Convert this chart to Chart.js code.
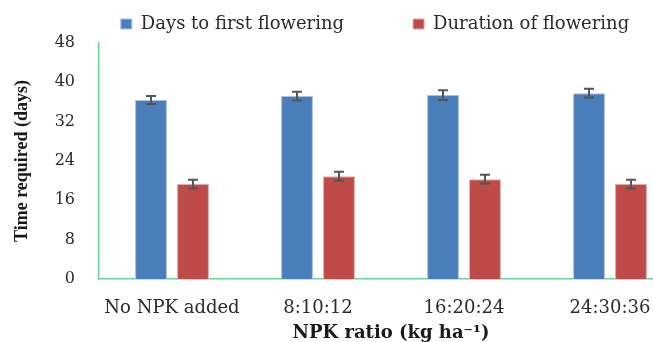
<!DOCTYPE html>
<html>
<head>
<meta charset="utf-8">
<script src="https://cdn.jsdelivr.net/npm/chart.js@4.4.1/dist/chart.umd.min.js"></script>
<style>
  html, body { margin: 0; padding: 0; background: #fff; overflow: hidden; }
</style>
</head>
<body>
<canvas id="chart" width="750" height="342"></canvas>
<script>
// values
const categories = ["No NPK added", "8:10:12", "16:20:24", "24:30:36"];
const daysToFirst = [36.4, 37.2, 37.4, 37.8];
const daysToFirstErr = [0.8, 0.9, 1.0, 0.9];
const durationFlowering = [19.3, 20.9, 20.3, 19.3];
const durationErr = [0.9, 0.9, 0.9, 0.9];
const yTicks = [0, 8, 16, 24, 32, 40, 48];

const serif = "'DejaVu Serif', serif";
const axisGreen = "#6ad594";

// draw the +/- error whiskers on top of each bar
const errorBars = {
  id: "errorBars",
  afterDatasetsDraw(chart) {
    const ctx = chart.ctx;
    const yScale = chart.scales.y;
    chart.data.datasets.forEach((ds, i) => {
      const meta = chart.getDatasetMeta(i);
      meta.data.forEach((bar, j) => {
        const top = yScale.getPixelForValue(ds.data[j] + ds.errors[j]);
        const bot = yScale.getPixelForValue(ds.data[j] - ds.errors[j]);
        ctx.save();
        ctx.strokeStyle = "#555555";
        ctx.lineWidth = 2;
        ctx.beginPath();
        ctx.moveTo(bar.x, top); ctx.lineTo(bar.x, bot);
        ctx.moveTo(bar.x - 5, top); ctx.lineTo(bar.x + 5, top);
        ctx.moveTo(bar.x - 5, bot); ctx.lineTo(bar.x + 5, bot);
        ctx.stroke();
        ctx.restore();
      });
    });
  }
};

new Chart(document.getElementById("chart").getContext("2d"), {
  type: "bar",
  data: {
    labels: categories,
    datasets: [{
      label: "Days to first flowering",
      data: daysToFirst,
      errors: daysToFirstErr,
      backgroundColor: "#4a7ebb",
      borderColor: "#a9c1e3",
      borderWidth: 1,
    }, {
      label: "Duration of flowering",
      data: durationFlowering,
      errors: durationErr,
      backgroundColor: "#be4b48",
      borderColor: "#e0aaa8",
      borderWidth: 1,
    }],
  },
  options: {
    responsive: false,
    animation: false,
    categoryPercentage: 0.575,
    barPercentage: 0.76,
    layout: { padding: { top: -54, left: 0, right: 0, bottom: 0 } },
    plugins: {
      tooltip: { enabled: false },
      legend: {
        position: "top",
        labels: {
          boxWidth: 11,
          boxHeight: 10,
          padding: 69,
          color: "#2b2b2b",
          font: { family: serif, size: 18 },
        },
      },
    },
    scales: {
      x: {
        grid: { display: false, drawTicks: false },
        border: { display: true, color: axisGreen, width: 1.5 },
        ticks: { color: "#2b2b2b", padding: 19, font: { family: serif, size: 18 } },
        title: {
          display: true,
          text: "NPK ratio (kg ha⁻¹)",
          color: "#1a1a1a",
          padding: { top: 0, bottom: 0 },
          font: { family: serif, size: 18, weight: "bold", lineHeight: 1 },
        },
        afterFit(scale) { scale.height = 63; },
      },
      y: {
        min: 0,
        max: 48,
        afterBuildTicks(scale) { scale.ticks = yTicks.map(v => ({ value: v })); },
        grid: { display: false, drawTicks: false },
        border: { display: true, color: axisGreen, width: 1.5 },
        ticks: { color: "#2b2b2b", padding: 24, font: { family: serif, size: 16 } },
        title: {
          display: true,
          text: "Time required (days)",
          color: "#1a1a1a",
          padding: { top: 12, bottom: 0 },
          font: { family: "'Liberation Serif', serif", size: 18, weight: "bold" },
        },
        afterFit(scale) { scale.width = 99; },
      },
      yRight: {
        position: "right",
        grid: { display: false, drawTicks: false },
        border: { display: false },
        ticks: { display: false },
        afterFit(scale) { scale.width = 67; },
      },
    },
  },
  plugins: [errorBars],
});
</script>
</body>
</html>
